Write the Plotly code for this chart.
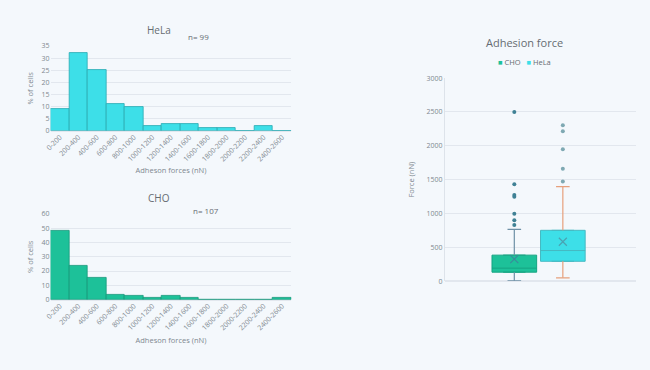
import plotly.graph_objects as go

categories = ["0-200", "200-400", "400-600", "600-800", "800-1000", "1000-1200",
              "1200-1400", "1400-1600", "1600-1800", "1800-2000", "2000-2200",
              "2200-2400", "2400-2600"]
hela_pct = [9, 32, 25, 11, 10, 2, 3, 3, 1, 1, 0, 2, 0]
cho_pct = [48, 24, 15, 3.5, 3, 1, 3, 1, 0, 0, 0, 0, 1]
hela_n = 99
cho_n = 107

box_names = ["CHO", "HeLa"]
box_q1 = [132, 293]
box_median = [192, 452]
box_q3 = [384, 751]
box_low = [5, 48]
box_high = [766, 1396]
box_mean = [325, 582]
cho_outliers = [2500, 1431, 1272, 1247, 997, 900, 828]
hela_outliers = [2306, 2215, 1950, 1662, 1474]

BG = "#f4f8fc"
C_HELA = "#3ddfe8"
C_CHO = "#1dc199"
GRID = "#e2e7ee"
TXT = "#808890"
FONT = "Open Sans"

fig = go.Figure()

fig.add_trace(go.Bar(x=categories, y=hela_pct, marker=dict(color=C_HELA, line=dict(color="#2aa9b2", width=0.8)),
                     xaxis="x", yaxis="y", showlegend=False))
fig.add_trace(go.Bar(x=categories, y=cho_pct, marker=dict(color=C_CHO, line=dict(color="#15977a", width=0.8)),
                     xaxis="x2", yaxis="y2", showlegend=False))

fill_cols = [C_CHO, C_HELA]
line_cols = ["#16a382", "#45b9c2"]
whisk_cols = ["#6e90a6", "#e6a07c"]
out_cols = ["#3f8195", "#7fa9b3"]
mean_cols = ["#3a8a9c", "#4aa3b2"]
outliers = [cho_outliers, hela_outliers]
cap = 0.14
for i, name in enumerate(box_names):
    fig.add_trace(go.Box(name=name, x=[i], q1=[box_q1[i]], median=[box_median[i]], q3=[box_q3[i]],
                         lowerfence=[box_q1[i]], upperfence=[box_q3[i]], width=0.92,
                         fillcolor=fill_cols[i], line=dict(color=line_cols[i], width=1),
                         xaxis="x3", yaxis="y3", showlegend=False))
    fig.add_trace(go.Scatter(
        x=[i, i, None, i - cap, i + cap, None, i, i, None, i - cap, i + cap],
        y=[box_q3[i], box_high[i], None, box_high[i], box_high[i], None,
           box_q1[i], box_low[i], None, box_low[i], box_low[i]],
        mode="lines", line=dict(color=whisk_cols[i], width=1.2),
        xaxis="x3", yaxis="y3", showlegend=False, hoverinfo="skip"))
    fig.add_trace(go.Scatter(x=[i] * len(outliers[i]), y=outliers[i], mode="markers",
                             marker=dict(color=out_cols[i], size=4),
                             xaxis="x3", yaxis="y3", showlegend=False))
    fig.add_trace(go.Scatter(x=[i], y=[box_mean[i]], mode="markers",
                             marker=dict(symbol="x-thin", size=8, line=dict(color=mean_cols[i], width=1.2)),
                             xaxis="x3", yaxis="y3", showlegend=False))

tickfont = dict(family=FONT, size=7, color=TXT)
titlefont = dict(family=FONT, size=7.5, color=TXT)

def px(x):
    return x / 650

def py(y):
    return 1 - y / 370

legend_text = ("<span style='color:%s'>■</span> %s   <span style='color:%s'>■</span> %s"
               % (C_CHO, box_names[0], C_HELA, box_names[1]))

def ann(text, x, y, size):
    return dict(text=text, x=px(x), y=py(y), xref="paper", yref="paper", showarrow=False,
                xanchor="center", yanchor="middle",
                font=dict(family=FONT, size=size, color="#666c72"))

fig.update_layout(
    width=650, height=370, margin=dict(l=0, r=0, t=0, b=0),
    paper_bgcolor=BG, plot_bgcolor=BG, bargap=0, showlegend=False,
    font=dict(family=FONT, color=TXT),
    xaxis=dict(domain=[px(45), px(288)], anchor="y", type="category", tickangle=-45,
               tickfont=dict(family=FONT, size=7, color=TXT), showgrid=False,
               title=dict(text="Adheson forces (nN)", font=titlefont, standoff=5)),
    yaxis=dict(domain=[py(129), py(42)], anchor="x", range=[0, 35], dtick=5,
               tickfont=tickfont, gridcolor=GRID, zerolinecolor=GRID,
               title=dict(text="% of cells", font=titlefont, standoff=6)),
    xaxis2=dict(domain=[px(45), px(288)], anchor="y2", type="category", tickangle=-45,
                tickfont=dict(family=FONT, size=7, color=TXT), showgrid=False,
                title=dict(text="Adheson forces (nN)", font=titlefont, standoff=6)),
    yaxis2=dict(domain=[py(302), py(214)], anchor="x2", range=[0, 60], dtick=10,
                tickfont=tickfont, gridcolor=GRID, zerolinecolor=GRID,
                title=dict(text="% of cells", font=titlefont, standoff=6)),
    xaxis3=dict(domain=[px(443), px(636)], anchor="y3", range=[-1.43, 2.51],
                showticklabels=False, showgrid=False, zeroline=False, ticks=""),
    yaxis3=dict(domain=[py(283), py(75)], anchor="x3", range=[0, 3000], dtick=500,
                tickfont=tickfont, gridcolor=GRID, zerolinecolor=GRID,
                showline=True, linecolor="#dde3ea", linewidth=1,
                title=dict(text="Force (nN)", font=titlefont, standoff=10)),
    annotations=[
        ann("HeLa", 154, 26, 10),
        ann("n= %d" % hela_n, 194, 32, 8),
        ann("CHO", 154, 198, 10),
        ann("n= %d" % cho_n, 202, 211, 8),
        ann("Adhesion force", 523, 38, 11),
        ann(legend_text, 523, 58, 7.5),
    ],
)

fig.write_html("out.html", config={"displayModeBar": False},
               post_script="document.body.style.margin='0';document.body.style.background='%s';" % BG)
